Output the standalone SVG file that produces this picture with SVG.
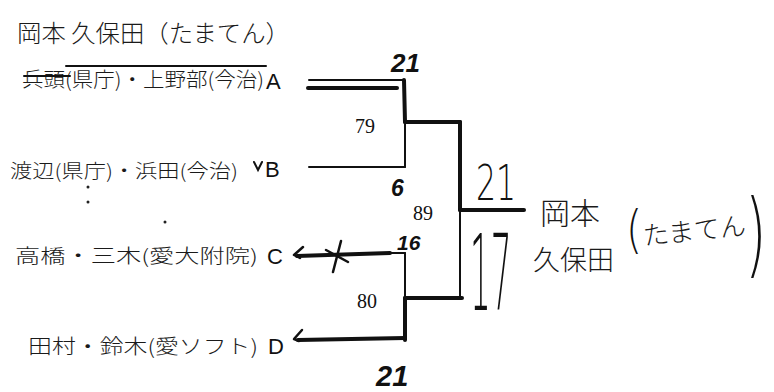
<svg xmlns="http://www.w3.org/2000/svg" width="774" height="392" viewBox="0 0 774 392">
<style>
.jp{font-family:"Noto Sans CJK JP","Noto Sans CJK SC",sans-serif;font-weight:300;fill:#1a1a1a}
.lt{font-family:"Liberation Sans",Arial,sans-serif;fill:#111}
.num{font-family:"Liberation Serif","Times New Roman",serif;font-size:20px;fill:#111}
.hw{font-family:"Liberation Sans",Arial,sans-serif;font-weight:bold;font-style:italic;fill:#111}
.hl{font-family:"DejaVu Sans","Liberation Sans",sans-serif;font-weight:200;fill:#111}
.thin{stroke:#111;stroke-width:2;fill:none;stroke-linecap:round}
.thick{stroke:#111;stroke-width:4;fill:none;stroke-linecap:round}
.mark{stroke:#111;stroke-width:2.5;fill:none;stroke-linecap:round;stroke-linejoin:round}
</style>
<rect width="774" height="392" fill="#fff"/>
<g id="title">
<text class="jp" x="17" y="42" font-size="24" textLength="273" lengthAdjust="spacingAndGlyphs">岡本 久保田（たまてん）</text>
</g>
<g id="teamA">
<text class="jp" x="22" y="87" font-size="20" textLength="242" lengthAdjust="spacingAndGlyphs">兵頭(県庁)・上野部(今治)</text>
<line class="thin" x1="66" y1="66" x2="266" y2="66"/>
<line class="thin" x1="24" y1="76" x2="70" y2="76"/>
<text class="lt" x="266" y="89" font-size="22">A</text>
</g>
<g id="teamB">
<text class="jp" x="10" y="178" font-size="19" textLength="228" lengthAdjust="spacingAndGlyphs">渡辺(県庁)・浜田(今治)</text>
<polyline class="thin" points="254,162 258,170 262,162" stroke-width="1.5"/>
<text class="lt" x="265" y="177" font-size="22">B</text>
<circle cx="88" cy="187" r="1.5" fill="#222"/>
<circle cx="88" cy="202" r="1.5" fill="#222"/>
<circle cx="165" cy="222" r="1.5" fill="#222"/>
</g>
<g id="teamC">
<text class="jp" x="15" y="263" font-size="19" textLength="243" lengthAdjust="spacingAndGlyphs">高橋・三木(愛大附院)</text>
<text class="lt" x="267" y="264" font-size="22">C</text>
</g>
<g id="teamD">
<text class="jp" x="28" y="354" font-size="20" textLength="230" lengthAdjust="spacingAndGlyphs">田村・鈴木(愛ソフト)</text>
<text class="lt" x="268" y="354" font-size="22">D</text>
</g>
<g id="match79">
<text class="num" x="355" y="133">79</text>
</g>
<g id="match80">
<text class="num" x="357" y="308">80</text>
</g>
<g id="match89">
<text class="num" x="413" y="220">89</text>
</g>
<g id="winner">
<text class="jp" x="540" y="224" font-size="30">岡本</text>
<text class="jp" x="533" y="270" font-size="27">久保田</text>
<text class="hl" font-size="52" transform="translate(626,247) scale(0.8,1)">(</text>
<text class="jp" x="642" y="240" font-size="26" transform="rotate(-6 694 224)">たまてん</text>
<text class="hl" font-size="92" transform="translate(745,266) scale(0.6,1)">)</text>
</g>
<g id="scores">
<text class="hw" x="391" y="72" font-size="26">21</text>
<text class="hw" x="391" y="196" font-size="23">6</text>
<text class="hw" x="397" y="250" font-size="21">16</text>
<text class="hw" x="376" y="386" font-size="29">21</text>
<text class="hl" font-size="50" transform="translate(476,200) scale(0.63,1)">21</text>
<text class="hl" font-size="105" transform="translate(470,310) scale(0.31,1)">17</text>
</g>
<g id="connectors">
<line class="thin" x1="309" y1="80" x2="404" y2="80"/>
<line class="thick" x1="308" y1="88" x2="397" y2="88"/>
<line class="thick" x1="404" y1="80" x2="405" y2="122"/>
<line class="thin" x1="405" y1="122" x2="405" y2="167"/>
<line class="thin" x1="309" y1="167" x2="405" y2="167"/>
<line class="thick" x1="405" y1="122" x2="460" y2="122" stroke-width="3.5"/>
<line class="thick" x1="460" y1="122" x2="460" y2="210"/>
<line class="thin" x1="460" y1="210" x2="460" y2="297" stroke-width="1.5"/>
<line class="thick" x1="460" y1="210" x2="524" y2="210"/>
<line class="thick" x1="297" y1="256" x2="390" y2="253" stroke-width="3.5"/>
<line class="thin" x1="390" y1="253" x2="405" y2="253"/>
<polyline class="mark" points="303,247 294,255 300,258"/>
<line class="mark" x1="341" y1="241" x2="333" y2="272"/>
<line class="mark" x1="326" y1="250" x2="348" y2="262"/>
<line class="thin" x1="405" y1="253" x2="405" y2="298"/>
<line class="thick" x1="405" y1="298" x2="405" y2="340"/>
<line class="thick" x1="405" y1="298" x2="462" y2="298" stroke-width="5"/>
<line class="thick" x1="298" y1="340" x2="405" y2="338"/>
<polyline class="mark" points="302,330 294,339 299,341"/>
</g>
</svg>
